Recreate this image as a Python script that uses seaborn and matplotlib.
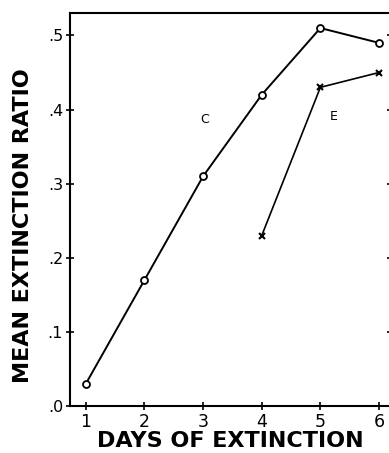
import numpy as np
import pandas as pd
import matplotlib
matplotlib.use("Agg")
import matplotlib.pyplot as plt
import seaborn as sns

# values
days_c = [1, 2, 3, 4, 5, 6]
ratio_c = [0.03, 0.17, 0.31, 0.42, 0.51, 0.49]
days_e = [4, 5, 6]
ratio_e = [0.23, 0.43, 0.45]
y_ticks = [0.0, 0.1, 0.2, 0.3, 0.4, 0.5]
y_tick_labels = [".0", ".1", ".2", ".3", ".4", ".5"]
x_ticks = [1, 2, 3, 4, 5, 6]
x_tick_labels = ["1", "2", "3", "4", "5", "6"]

sns.set_style("ticks")
plt.rcParams['font.family'] = ['DejaVu Sans']
plt.rcParams['text.color'] = 'black'
plt.rcParams['axes.labelcolor'] = 'black'

fig = plt.figure(figsize=(3.89, 4.53), dpi=100)
ax = fig.add_axes([0.18, 0.1038, 0.826, 0.867])

sns.lineplot(x=days_c, y=ratio_c, ax=ax, color='black', linewidth=1.4,
             marker='o', markersize=5, markerfacecolor='white',
             markeredgecolor='black', markeredgewidth=1.3)
sns.lineplot(x=days_e, y=ratio_e, ax=ax, color='black', linewidth=1.2,
             marker='x', markersize=5, markeredgecolor='black',
             markeredgewidth=1.5)

ax.text(3.03, 0.387, "C", fontsize=9, ha='center', va='center')
ax.text(5.23, 0.39, "E", fontsize=9, ha='center', va='center')

ax.set_xlim(0.73, 6.21)
ax.set_ylim(0, 0.53)
ax.set_xticks(x_ticks)
ax.set_xticklabels(x_tick_labels, fontsize=12.5)
ax.set_yticks(y_ticks)
ax.set_yticklabels(y_tick_labels, fontsize=11.5)
ax.tick_params(axis='both', direction='inout', length=6, width=1.2, pad=2, colors='black')
ax.tick_params(axis='y', right=True)

for s in ax.spines.values():
    s.set_linewidth(1.5)
    s.set_color('black')

ax.set_xlabel("DAYS OF EXTINCTION", fontsize=16, fontweight='bold', labelpad=0)
ax.set_ylabel("MEAN EXTINCTION RATIO", fontsize=16, fontweight='bold')
ax.yaxis.set_label_coords(-0.115, 0.46)

fig.savefig("out.png", dpi=100)
